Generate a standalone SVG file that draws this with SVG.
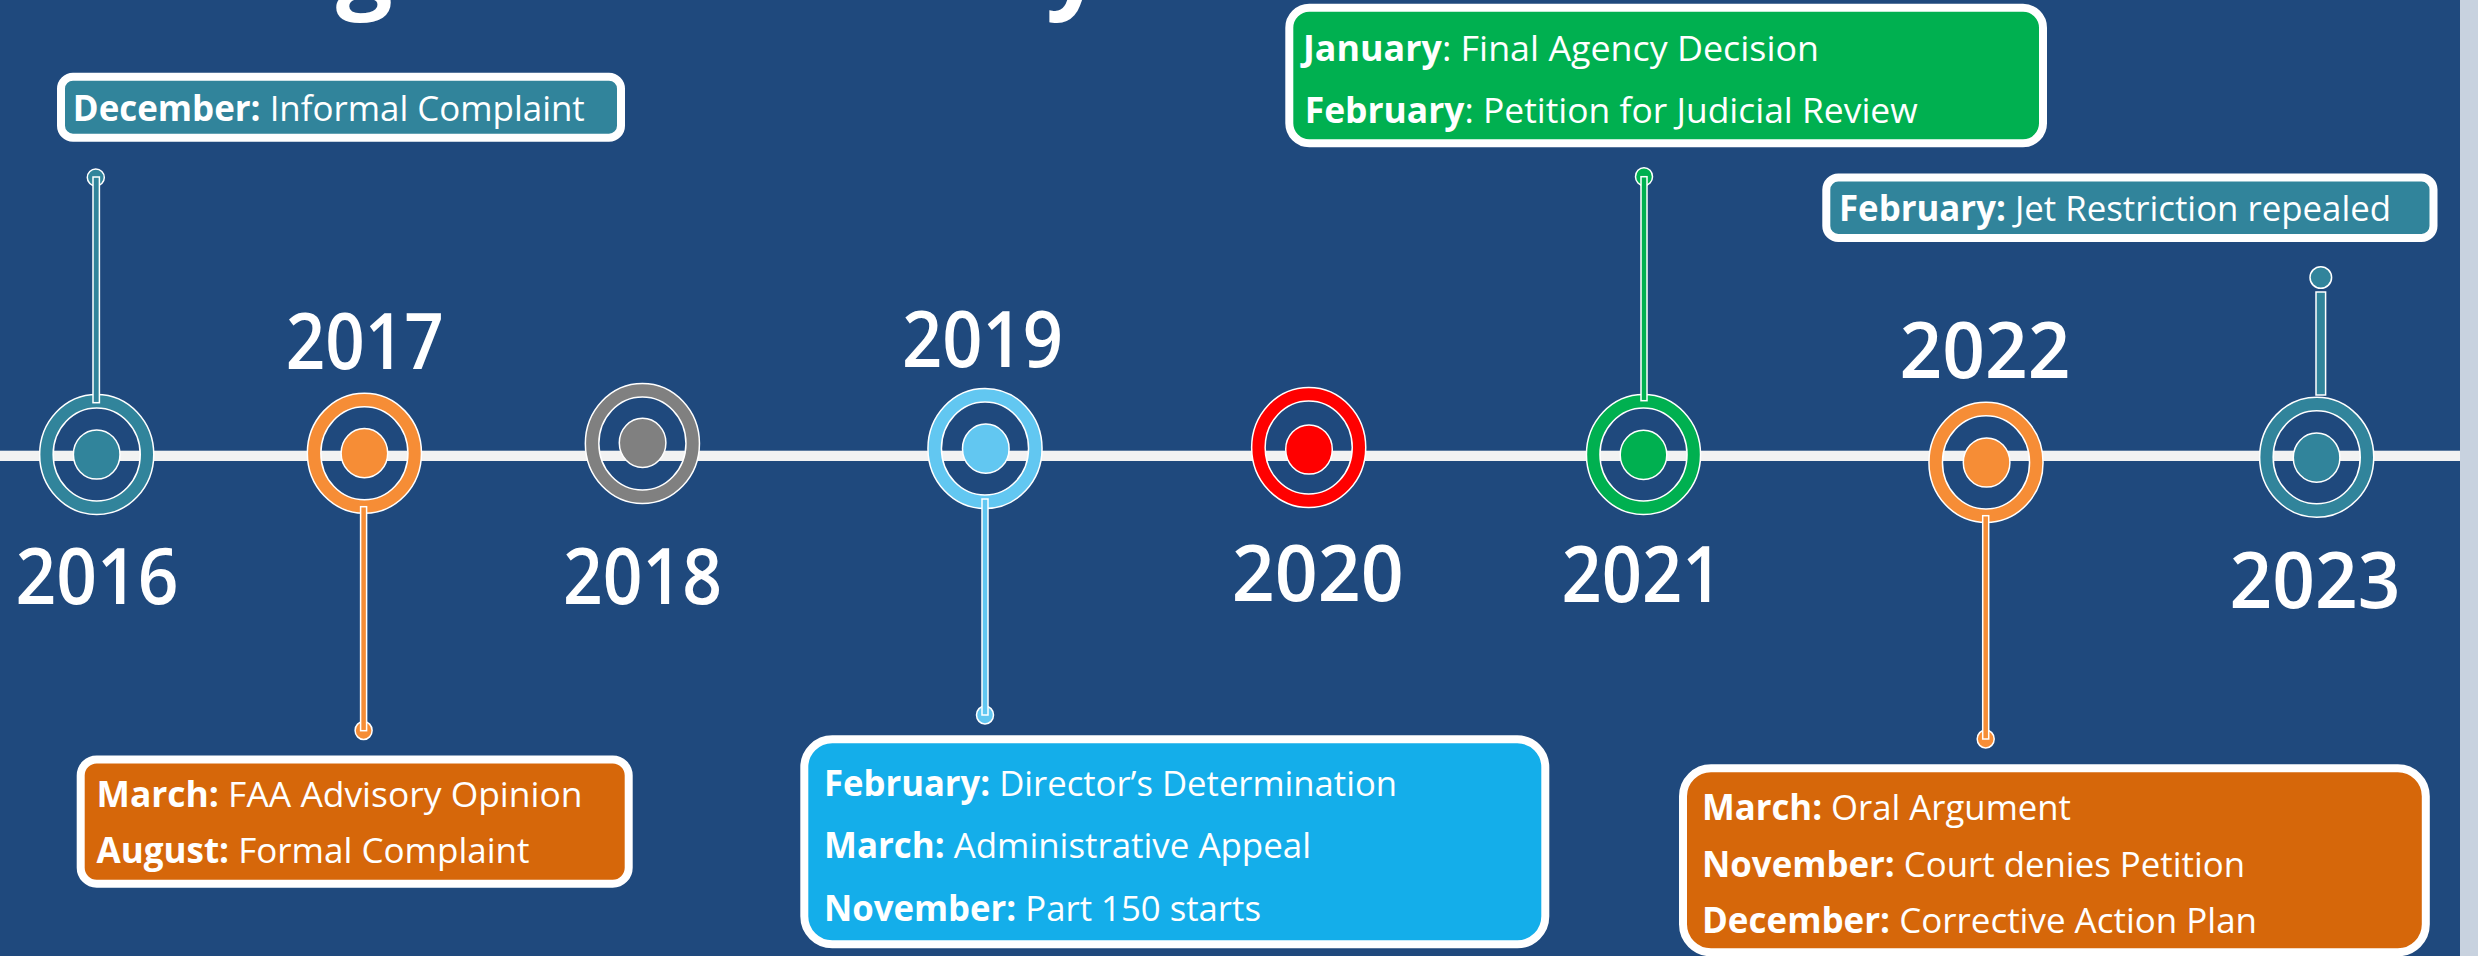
<svg xmlns="http://www.w3.org/2000/svg" width="2478" height="956" viewBox="0 0 2478 956">
  <style>
    .txt { font-family: "Open Sans", "Noto Sans", "DejaVu Sans", sans-serif; fill: #FFFFFF; }
    .box { font-size: 35px; font-weight: 400; }
    .b { font-weight: 700; }
    .year { font-size: 78px; font-weight: 600; text-anchor: middle; }
    .title { font-size: 100px; font-weight: 700; }
    .edge { fill: none; stroke: #FFFFFF; stroke-width: 15; }
    .dot { stroke: #FFFFFF; stroke-width: 1.5; }
    .stem { stroke: #FFFFFF; stroke-width: 1.5; }
    .card { stroke: #FFFFFF; stroke-width: 8; }
    .teal { fill: #31849B; }
    .orange { fill: #F68D36; }
    .gray { fill: #808080; }
    .sky { fill: #62C7F1; }
    .red { fill: #FF0000; }
    .green { fill: #00B050; }
    .r-teal { fill: none; stroke: #31849B; stroke-width: 12; }
    .r-orange { fill: none; stroke: #F68D36; stroke-width: 12; }
    .r-gray { fill: none; stroke: #808080; stroke-width: 12; }
    .r-sky { fill: none; stroke: #62C7F1; stroke-width: 12; }
    .r-red { fill: none; stroke: #FF0000; stroke-width: 12; }
    .r-green { fill: none; stroke: #00B050; stroke-width: 12; }
  </style>

  <!-- background -->
  <rect x="0" y="0" width="2478" height="956" fill="#1F497D"/>
  <rect x="2460" y="0" width="18" height="956" fill="#C8D2DF"/>

  <!-- title, only its descenders fall inside the frame -->
  <g id="title" class="txt title">
    <text x="336" y="-1">g</text>
    <text x="1046" y="-1">y</text>
  </g>

  <!-- connectors: the timeline axis and the event stems -->
  <g id="connectors">
    <rect x="0" y="450.7" width="2460" height="10.3" fill="#F2F2F2"/>
  </g>

  <!-- 2016 -->
  <g id="node-2016">
    <ellipse cx="96.7" cy="454.5" rx="50.3" ry="53.3" class="edge"/>
    <ellipse cx="96.7" cy="454.5" rx="50.3" ry="53.3" class="r-teal"/>
    <ellipse cx="96.7" cy="454.5" rx="23.3" ry="24.6" class="dot teal"/>
    <circle cx="95.8" cy="177.5" r="8.5" class="dot teal"/>
    <rect x="93" y="177" width="6.4" height="225.7" class="stem teal"/>
    <text x="97" y="604" class="txt year" textLength="163" lengthAdjust="spacingAndGlyphs">2016</text>
    <rect x="61" y="76.7" width="560" height="61" rx="12" class="card teal"/>
    <text x="72.8" y="120.7" class="txt box" textLength="512" lengthAdjust="spacingAndGlyphs"><tspan class="b">December:</tspan> Informal Complaint</text>
  </g>

  <!-- 2017 -->
  <g id="node-2017">
    <ellipse cx="364.4" cy="453.2" rx="50.3" ry="53.3" class="edge"/>
    <ellipse cx="364.4" cy="453.2" rx="50.3" ry="53.3" class="r-orange"/>
    <ellipse cx="364.4" cy="453.2" rx="23.3" ry="24.6" class="dot orange"/>
    <ellipse cx="363.6" cy="730.5" rx="8.5" ry="9" class="dot orange"/>
    <rect x="360.6" y="506.7" width="6" height="224" class="stem orange"/>
    <text x="364.8" y="369" class="txt year" textLength="158" lengthAdjust="spacingAndGlyphs">2017</text>
    <rect x="80.7" y="759.5" width="548" height="124.2" rx="16" fill="#D6670A" class="card"/>
    <text x="96.5" y="807.3" class="txt box" textLength="486" lengthAdjust="spacingAndGlyphs"><tspan class="b">March:</tspan> FAA Advisory Opinion</text>
    <text x="96.5" y="863.3" class="txt box" textLength="433" lengthAdjust="spacingAndGlyphs"><tspan class="b">August:</tspan> Formal Complaint</text>
  </g>

  <!-- 2018 -->
  <g id="node-2018">
    <ellipse cx="642.4" cy="443.5" rx="50.3" ry="53.3" class="edge"/>
    <ellipse cx="642.4" cy="443.5" rx="50.3" ry="53.3" class="r-gray"/>
    <ellipse cx="642.6" cy="442.8" rx="23.3" ry="24.6" class="dot gray"/>
    <text x="642.4" y="604" class="txt year" textLength="159" lengthAdjust="spacingAndGlyphs">2018</text>
  </g>

  <!-- 2019 -->
  <g id="node-2019">
    <ellipse cx="985" cy="448.5" rx="50.3" ry="53.3" class="edge"/>
    <ellipse cx="985" cy="448.5" rx="50.3" ry="53.3" class="r-sky"/>
    <ellipse cx="985.8" cy="448.7" rx="23.3" ry="24.6" class="dot sky"/>
    <ellipse cx="985" cy="715" rx="8.5" ry="9" class="dot sky"/>
    <rect x="982" y="499" width="6" height="216" class="stem sky"/>
    <text x="982.6" y="366.7" class="txt year" textLength="161" lengthAdjust="spacingAndGlyphs">2019</text>
    <rect x="804.3" y="739.3" width="741" height="205" rx="28" fill="#14AEEA" class="card"/>
    <text x="824" y="795.7" class="txt box" textLength="573" lengthAdjust="spacingAndGlyphs"><tspan class="b">February:</tspan> Director’s Determination</text>
    <text x="824" y="858.3" class="txt box" textLength="487" lengthAdjust="spacingAndGlyphs"><tspan class="b">March:</tspan> Administrative Appeal</text>
    <text x="824" y="920.7" class="txt box" textLength="437" lengthAdjust="spacingAndGlyphs"><tspan class="b">November:</tspan> Part 150 starts</text>
  </g>

  <!-- 2020 -->
  <g id="node-2020">
    <ellipse cx="1308.7" cy="447.5" rx="50.3" ry="53.3" class="edge"/>
    <ellipse cx="1308.7" cy="447.5" rx="50.3" ry="53.3" class="r-red"/>
    <ellipse cx="1309" cy="449.5" rx="23.3" ry="24.6" class="dot red"/>
    <text x="1317.7" y="600.7" class="txt year" textLength="172" lengthAdjust="spacingAndGlyphs">2020</text>
  </g>

  <!-- 2021 -->
  <g id="node-2021">
    <ellipse cx="1643.5" cy="454.5" rx="50.3" ry="53.3" class="edge"/>
    <ellipse cx="1643.5" cy="454.5" rx="50.3" ry="53.3" class="r-green"/>
    <ellipse cx="1643.5" cy="454.8" rx="23.3" ry="24.6" class="dot green"/>
    <ellipse cx="1644" cy="176.7" rx="8.5" ry="9" class="dot green"/>
    <rect x="1641" y="176.7" width="6" height="224" class="stem green"/>
    <text x="1642" y="602" class="txt year" textLength="161" lengthAdjust="spacingAndGlyphs">2021</text>
    <rect x="1289.3" y="7.8" width="753.7" height="135.5" rx="20" class="card green"/>
    <text x="1303" y="61" class="txt box" textLength="516" lengthAdjust="spacingAndGlyphs"><tspan class="b">January</tspan>: Final Agency Decision</text>
    <text x="1304.7" y="123.3" class="txt box" textLength="613" lengthAdjust="spacingAndGlyphs"><tspan class="b">February</tspan>: Petition for Judicial Review</text>
  </g>

  <!-- 2022 -->
  <g id="node-2022">
    <ellipse cx="1986" cy="462.4" rx="50.3" ry="53.3" class="edge"/>
    <ellipse cx="1986" cy="462.4" rx="50.3" ry="53.3" class="r-orange"/>
    <ellipse cx="1986.6" cy="462.5" rx="23.3" ry="24.6" class="dot orange"/>
    <ellipse cx="1985.7" cy="739" rx="8.5" ry="9" class="dot orange"/>
    <rect x="1982.7" y="515.7" width="6" height="223.3" class="stem orange"/>
    <text x="1985" y="377.7" class="txt year" textLength="171" lengthAdjust="spacingAndGlyphs">2022</text>
    <rect x="1683" y="768.3" width="742.8" height="184" rx="28" fill="#D6670A" class="card"/>
    <text x="1702" y="820" class="txt box" textLength="369" lengthAdjust="spacingAndGlyphs"><tspan class="b">March:</tspan> Oral Argument</text>
    <text x="1702" y="876.7" class="txt box" textLength="543" lengthAdjust="spacingAndGlyphs"><tspan class="b">November:</tspan> Court denies Petition</text>
    <text x="1702" y="933.3" class="txt box" textLength="555" lengthAdjust="spacingAndGlyphs"><tspan class="b">December:</tspan> Corrective Action Plan</text>
  </g>

  <!-- 2023 -->
  <g id="node-2023">
    <ellipse cx="2316.7" cy="457.2" rx="50.3" ry="53.3" class="edge"/>
    <ellipse cx="2316.7" cy="457.2" rx="50.3" ry="53.3" class="r-teal"/>
    <ellipse cx="2316.6" cy="457.7" rx="23.3" ry="24.6" class="dot teal"/>
    <circle cx="2320.8" cy="277.5" r="10.8" class="dot teal"/>
    <rect x="2316" y="292" width="9.6" height="103" class="stem teal"/>
    <text x="2315" y="607.7" class="txt year" textLength="171" lengthAdjust="spacingAndGlyphs">2023</text>
    <rect x="1826.3" y="177.6" width="607.2" height="60.3" rx="12" class="card teal"/>
    <text x="1839" y="220.7" class="txt box" textLength="552" lengthAdjust="spacingAndGlyphs"><tspan class="b">February:</tspan> Jet Restriction repealed</text>
  </g>
</svg>
